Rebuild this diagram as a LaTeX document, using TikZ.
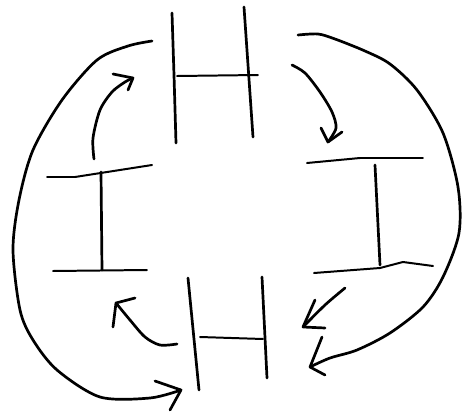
\documentclass[tikz,border=0pt]{standalone}
\begin{document}
\begin{tikzpicture}[x=0.03cm, y=-0.03cm,
    pen/.style={line width=2.3pt, line cap=round, line join=round},
    thinpen/.style={line width=1.7pt, line cap=round, line join=round}]
        \useasboundingbox (0,0) rectangle (463,413);

        % Top H
        \draw[pen] (172,13) -- (174,75) -- (176,143);
        \draw[pen] (244,7) -- (253,137);
        \draw[thinpen] (177,76) -- (258,75);

        % Left I
        \draw[thinpen] (47,177) -- (75,177) -- (152,165);
        \draw[pen] (101,172) -- (102,270);
        \draw[thinpen] (53,271) -- (147,270);

        % Right I
        \draw[thinpen] (307,163) -- (360,158) -- (423,158);
        \draw[pen] (375,165) -- (380,265);
        \draw[thinpen] (314,273) -- (380,268) -- (403,262) -- (433,266);

        % Bottom H
        \draw[pen] (188,278) -- (199,390);
        \draw[pen] (262,277) -- (267,378);
        \draw[thinpen] (200,337) -- (263,339);

        % Small arrows
        \draw[pen] plot[smooth] coordinates {(94,159) (93,138) (100,110) (112,92) (125,82) (133,78)};
        \draw[pen] (113,74) -- (133,78) -- (128,90);
        \draw[pen] plot[smooth] coordinates {(292,65) (305,73) (320,92) (332,112) (336,128) (328,142)};
        \draw[pen] (321,128) -- (328,142) -- (342,132);
        \draw[pen] plot[smooth] coordinates {(345,288) (325,305) (303,327)};
        \draw[pen] (315,300) -- (303,327) -- (325,328);
        \draw[pen] plot[smooth] coordinates {(177,344) (160,345) (145,337) (130,320) (116,303)};
        \draw[pen] (113,327) -- (116,303) -- (135,298);

        % Big loops
        \draw[pen] plot[smooth] coordinates {(152,41) (128,46) (97,60) (62,100) (33,150) (19,200) (13,250) (20,310) (33,340) (57,370) (100,397) (150,398) (181,390)};
        \draw[pen] (155,381) -- (181,390) -- (170,410);
        \draw[pen] plot[smooth] coordinates {(298,35) (318,34) (335,39) (365,51) (390,64) (417,90) (443,133) (458,187) (459,233) (443,277) (423,307) (390,333) (357,350) (330,358) (310,367)};
        \draw[pen] (322,337) -- (310,367) -- (325,375);
    \end{tikzpicture}
\end{document}
